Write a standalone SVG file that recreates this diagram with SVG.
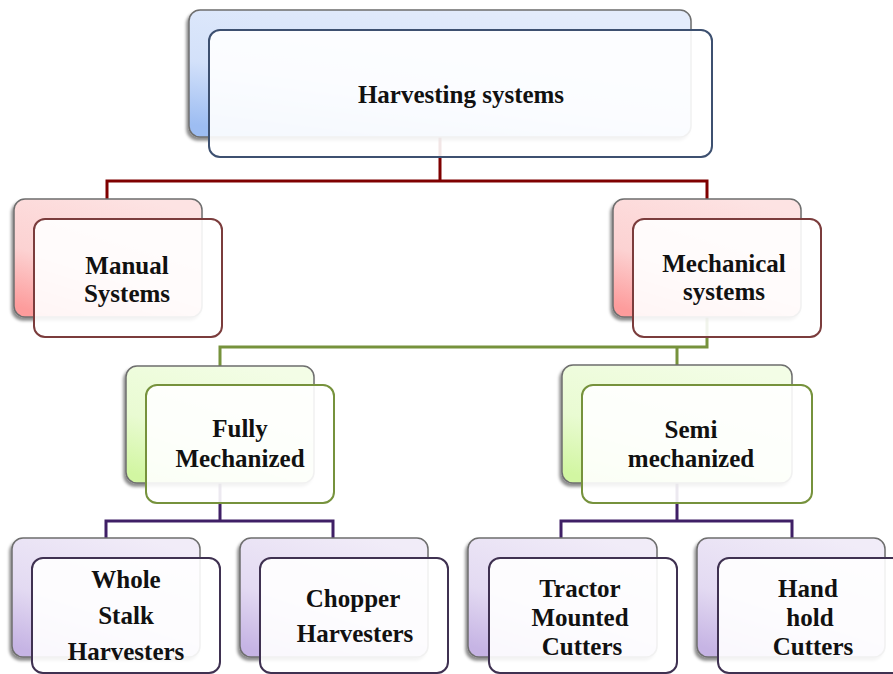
<svg xmlns="http://www.w3.org/2000/svg" width="893" height="674" viewBox="0 0 893 674">
<defs>
  <linearGradient id="gBlue" x1="0.7" y1="0" x2="0.2" y2="1">
    <stop offset="0" stop-color="#e4ecfb"/>
    <stop offset="0.6" stop-color="#d3e1fa"/>
    <stop offset="1" stop-color="#9dbdf2"/>
  </linearGradient>
  <linearGradient id="gRed" x1="0.7" y1="0" x2="0.2" y2="1">
    <stop offset="0" stop-color="#fde3e3"/>
    <stop offset="0.6" stop-color="#fcd2d2"/>
    <stop offset="1" stop-color="#fd9c9c"/>
  </linearGradient>
  <linearGradient id="gGreen" x1="0.7" y1="0" x2="0.2" y2="1">
    <stop offset="0" stop-color="#f3fde6"/>
    <stop offset="0.6" stop-color="#e9fbd2"/>
    <stop offset="1" stop-color="#d2f6a2"/>
  </linearGradient>
  <linearGradient id="gPurple" x1="0.7" y1="0" x2="0.2" y2="1">
    <stop offset="0" stop-color="#f1ecf8"/>
    <stop offset="0.6" stop-color="#e3daf2"/>
    <stop offset="1" stop-color="#c6b4e4"/>
  </linearGradient>
  <filter id="sh" x="-10%" y="-10%" width="120%" height="125%">
    <feDropShadow dx="-2" dy="3" stdDeviation="1.5" flood-color="#000" flood-opacity="0.45"/>
  </filter>
</defs>
<style>
  .back { stroke: #6e6e6e; stroke-width: 1.5; filter: url(#sh); }
  .front { fill: #ffffff; fill-opacity: 0.9; stroke-width: 2; }
  .blue .back { fill: url(#gBlue); }
  .blue .front { stroke: #3d5070; }
  .red .back { fill: url(#gRed); }
  .red .front { stroke: #7b3c3c; }
  .green .back { fill: url(#gGreen); }
  .green .front { stroke: #76923c; }
  .purple .back { fill: url(#gPurple); }
  .purple .front { stroke: #3f3151; }
  text { font-family: "Liberation Serif", "Times New Roman", serif; font-weight: bold; font-size: 25px; fill: #111111; text-anchor: middle; }
  .conn { fill: none; stroke-width: 3; }
</style>

<g id="connectors">
  <path class="conn" stroke="#7f0000" d="M440,137 V181 M107,199 V181 H707 V199"/>
  <path class="conn" stroke="#76923c" d="M707,317 V347 H220 V366 M677,347 V365"/>
  <path class="conn" stroke="#3f1f66" d="M220,483 V521 M106,538 V521 H333 V538"/>
  <path class="conn" stroke="#3f1f66" d="M677,483 V521 M561,538 V521 H792 V538"/>
</g>

<g id="harvesting-systems" class="blue">
  <rect class="back" x="189" y="10" width="502" height="127" rx="11"/>
  <rect class="front" x="209" y="30" width="503" height="127" rx="11"/>
  <text x="461" y="103">Harvesting systems</text>
</g>

<g id="manual-systems" class="red">
  <rect class="back" x="14" y="199" width="188" height="118" rx="11"/>
  <rect class="front" x="34" y="219" width="188" height="118" rx="11"/>
  <text x="127" y="274">Manual</text>
  <text x="127" y="302">Systems</text>
</g>

<g id="mechanical-systems" class="red">
  <rect class="back" x="613" y="199" width="188" height="118" rx="11"/>
  <rect class="front" x="633" y="219" width="188" height="118" rx="11"/>
  <text x="724" y="272">Mechanical</text>
  <text x="724" y="300">systems</text>
</g>

<g id="fully-mechanized" class="green">
  <rect class="back" x="126" y="366" width="188" height="117" rx="11"/>
  <rect class="front" x="146" y="385" width="188" height="118" rx="11"/>
  <text x="240" y="437">Fully</text>
  <text x="240" y="467">Mechanized</text>
</g>

<g id="semi-mechanized" class="green">
  <rect class="back" x="562" y="365" width="230" height="118" rx="11"/>
  <rect class="front" x="582" y="385" width="230" height="118" rx="11"/>
  <text x="691" y="438">Semi</text>
  <text x="691" y="467">mechanized</text>
</g>

<g id="whole-stalk-harvesters" class="purple">
  <rect class="back" x="12" y="538" width="188" height="119" rx="11"/>
  <rect class="front" x="32" y="558" width="188" height="115" rx="11"/>
  <text x="126" y="588">Whole</text>
  <text x="126" y="624">Stalk</text>
  <text x="126" y="660">Harvesters</text>
</g>

<g id="chopper-harvesters" class="purple">
  <rect class="back" x="240" y="538" width="188" height="119" rx="11"/>
  <rect class="front" x="260" y="558" width="188" height="115" rx="11"/>
  <text x="353" y="607">Chopper</text>
  <text x="355" y="642">Harvesters</text>
</g>

<g id="tractor-mounted-cutters" class="purple">
  <rect class="back" x="468" y="538" width="189" height="119" rx="11"/>
  <rect class="front" x="489" y="558" width="188" height="115" rx="11"/>
  <text x="580" y="597">Tractor</text>
  <text x="580" y="626">Mounted</text>
  <text x="582" y="655">Cutters</text>
</g>

<g id="hand-hold-cutters" class="purple">
  <rect class="back" x="697" y="538" width="188" height="119" rx="11"/>
  <rect class="front" x="718" y="558" width="188" height="115" rx="11"/>
  <text x="808" y="597">Hand</text>
  <text x="810" y="626">hold</text>
  <text x="813" y="655">Cutters</text>
</g>
</svg>
